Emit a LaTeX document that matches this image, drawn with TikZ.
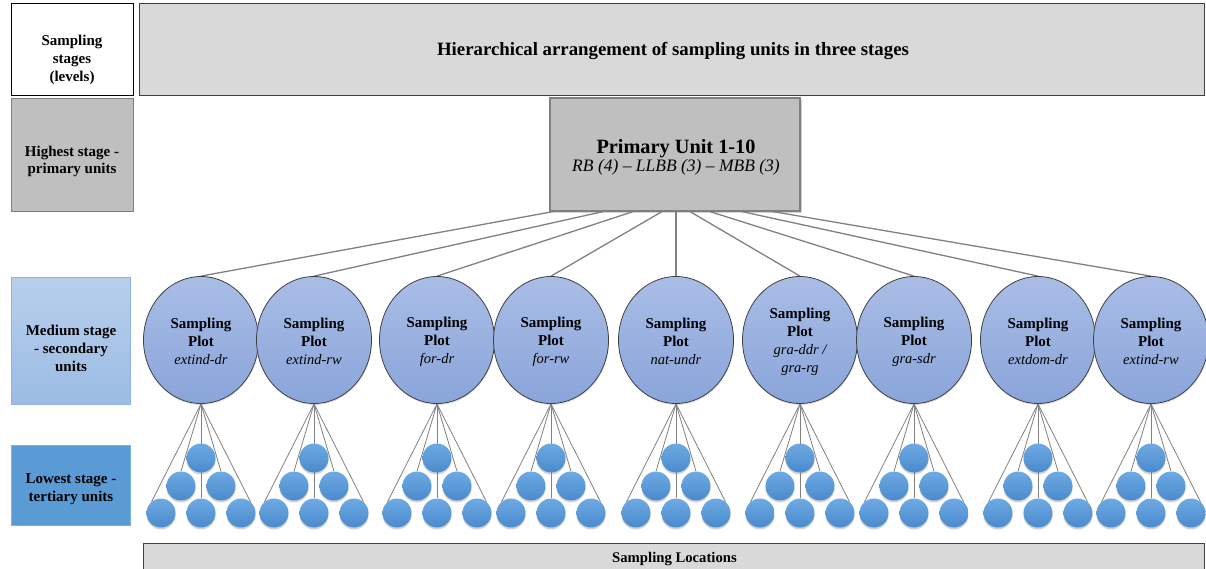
\documentclass[tikz,border=0pt]{standalone}
\usepackage{fontspec}
\setmainfont{Liberation Serif}
\usetikzlibrary{shapes.geometric,shadows,calc,backgrounds}
\definecolor{boxgray}{HTML}{D9D9D9}
\definecolor{midgray}{HTML}{BFBFBF}
\definecolor{edgegray}{HTML}{7F7F7F}
\definecolor{darkedge}{HTML}{404040}
\definecolor{medtop}{HTML}{B8CFEC}
\definecolor{medbot}{HTML}{9BBCE4}
\definecolor{mededge}{HTML}{8DB3E2}
\definecolor{lowfill}{HTML}{5B9BD5}
\definecolor{lowedge}{HTML}{7FB1E0}
\definecolor{elltop}{HTML}{A9BDE6}
\definecolor{ellbot}{HTML}{8AA5DA}
\definecolor{circtop}{HTML}{6EAAE3}
\definecolor{circbot}{HTML}{4A8ACC}
\definecolor{linkgray}{HTML}{808080}
\newcommand{\plitem}[1]{{\itshape\mdseries\fontsize{14.5}{18}\selectfont #1}}
% #1 id, #2 x centre, #3 start offset on primary box, #4 label
\newcommand{\myplotunit}[4]{%
  \node[plotell] (e#1) at (#2,340) {};
  \node[plottext] (e#1t) at (#2,341.5) {Sampling\\Plot\\#4};
  \node[tcirc] (t#1) at (#2,458) {};
  \node[tcirc] (ma#1) at ({#2-20},486) {};
  \node[tcirc] (mb#1) at ({#2+20},486) {};
  \node[tcirc] (ba#1) at ({#2-40},513) {};
  \node[tcirc] (bb#1) at (#2,513) {};
  \node[tcirc] (bc#1) at ({#2+40},513) {};
  \begin{scope}[on background layer]
    \draw[toplink] ([xshift=#3pt]P.south) -- (e#1.north);
    \draw[sublink] (e#1.south) -- (ba#1.130);
    \draw[sublink] (e#1.south) -- (ma#1.north);
    \draw[sublink] (e#1.south) -- (bb#1.north);
    \draw[sublink] (e#1.south) -- (mb#1.north);
    \draw[sublink] (e#1.south) -- (bc#1.50);
  \end{scope}
}
\begin{document}
\begin{tikzpicture}[x=1pt,y=-1pt,
  stagebox/.style={draw, line width=1pt, inner sep=0pt},
  stagetext/.style={inner sep=0pt, align=center, font=\bfseries\fontsize{15}{18}\selectfont},
  plotell/.style={ellipse, draw=darkedge, line width=0.8pt, inner sep=0pt,
    minimum width=115pt, minimum height=127pt, top color=elltop, bottom color=ellbot,
    drop shadow={opacity=0.25, shadow xshift=0.5pt, shadow yshift=-1.5pt}},
  plottext/.style={inner sep=0pt, align=center, font=\bfseries\fontsize{15}{18}\selectfont},
  tcirc/.style={circle, draw=none, inner sep=0pt, minimum size=29pt,
    top color=circtop, bottom color=circbot,
    drop shadow={opacity=0.35, shadow xshift=0pt, shadow yshift=-2pt}},
  toplink/.style={draw=linkgray, line width=1.3pt},
  sublink/.style={draw=linkgray, line width=0.8pt}
]
\clip (0,0) rectangle (1206,568);
\useasboundingbox (0,0) rectangle (1206,568);

% header row
\node[stagebox, fill=white, draw=black, minimum width=122pt, minimum height=92pt] (s0) at (72,49) {};
\node[stagetext] (s0t) at (72,60) {Sampling\\stages\\(levels)};
\node[draw=darkedge, line width=1pt, fill=boxgray, minimum width=1065pt, minimum height=92pt, inner sep=0pt] (title) at (671.5,49) {};
\node[inner sep=0pt, font=\bfseries\fontsize{18.8}{22}\selectfont] (titlet) at (673,51) {Hierarchical arrangement of sampling units in three stages};

% left stage labels
\node[stagebox, fill=midgray, draw=edgegray, minimum width=122pt, minimum height=113pt] (s1) at (72,154.5) {};
\node[stagetext, font=\bfseries\fontsize{15}{17}\selectfont] (s1t) at (72,161) {Highest stage -\\primary units};
\node[stagebox, top color=medtop, bottom color=medbot, draw=mededge, minimum width=119pt, minimum height=127pt] (s2) at (70.5,340.5) {};
\node[stagetext] (s2t) at (71,348.5) {Medium stage\\- secondary\\units};
\node[stagebox, fill=lowfill, draw=lowedge, minimum width=119pt, minimum height=80pt] (s3) at (70.5,485) {};
\node[stagetext] (s3t) at (71,489) {Lowest stage -\\tertiary units};

% primary unit
\node[draw=edgegray, line width=1.2pt, fill=midgray, minimum width=250pt, minimum height=113pt, inner sep=0pt,
  drop shadow={opacity=0.35, shadow xshift=2pt, shadow yshift=-2pt}] (P) at (675,154.5) {};
\node[inner sep=0pt, align=center] (Pt) at (676,157.5)
  {{\bfseries\fontsize{20.3}{24}\selectfont Primary Unit 1-10}\\{\itshape\fontsize{17.5}{24}\selectfont RB (4) -- LLBB (3) -- MBB (3)}};

% sampling locations
\node[draw=darkedge, line width=1pt, fill=boxgray, minimum width=1061pt, minimum height=30pt, inner sep=0pt] (loc) at (673.5,558) {};
\node[inner sep=0pt, font=\bfseries\fontsize{14.7}{17}\selectfont] (loct) at (674.5,559.5) {Sampling Locations};

% secondary and tertiary units
\myplotunit{1}{201}{-122}{\plitem{extind-dr}}
\myplotunit{2}{314}{-72}{\plitem{extind-rw}}
\myplotunit{3}{437}{-42}{\plitem{for-dr}}
\myplotunit{4}{551}{-13}{\plitem{for-rw}}
\myplotunit{5}{676}{1}{\plitem{nat-undr}}
\myplotunit{6}{800}{15}{\plitem{gra-ddr /}\\\plitem{gra-rg}}
\myplotunit{7}{914}{35}{\plitem{gra-sdr}}
\myplotunit{8}{1038}{67}{\plitem{extdom-dr}}
\myplotunit{9}{1151}{98}{\plitem{extind-rw}}
\end{tikzpicture}
\end{document}
